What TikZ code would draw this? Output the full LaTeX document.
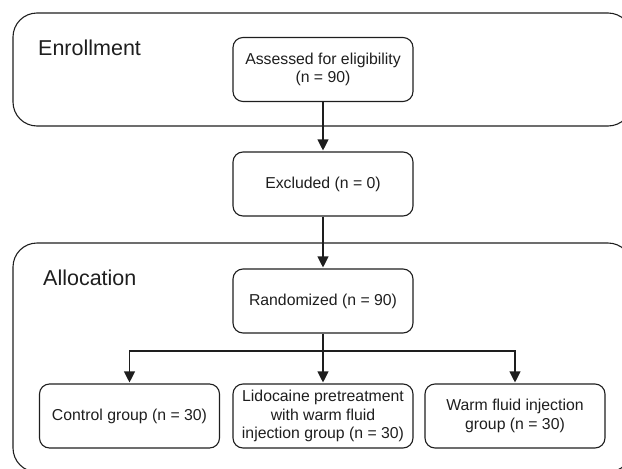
\documentclass[tikz,border=0pt]{standalone}
\usepackage{fontspec}
\setmainfont{Liberation Sans}
\usetikzlibrary{arrows.meta}
\definecolor{linec}{HTML}{1E1E1E}
\definecolor{textc}{HTML}{1E1E1E}
\begin{document}
\begin{tikzpicture}[x=1pt,y=-1pt,
  stagebox/.style={draw=linec, line width=1.1pt, rounded corners=10pt,
    minimum width=180pt, minimum height=64pt, align=center, inner sep=0pt,
    text=textc, font=\fontsize{15.8}{18.5}\selectfont},
  framebox/.style={draw=linec, line width=1.1pt, rounded corners=24pt},
  framelabel/.style={anchor=base west, inner sep=0pt, text=textc,
    font=\fontsize{21.5}{24}\selectfont},
  arr/.style={draw=linec, line width=1.1pt, -{Triangle[length=11pt,width=11pt]}, shorten >=1pt},
  conn/.style={draw=linec, line width=1.1pt}]
\useasboundingbox (0,0) rectangle (622,469);
% frames
\draw[framebox] (13,13) rectangle (632,126);
\draw[framebox] (13,243) rectangle (632,472);
\node[framelabel] (enroll) at (38,55) {Enrollment};
\node[framelabel] (alloc) at (43,285) {Allocation};
% boxes
\node[stagebox] (assess) at (323,69.5) {Assessed for eligibility\\(n = 90)};
\node[stagebox] (excl) at (323,184) {Excluded (n = 0)};
\node[stagebox] (rand) at (323,301) {Randomized (n = 90)};
\node[stagebox] (ctrl) at (129.5,416) {Control group (n = 30)};
\node[stagebox] (lido) at (323,416) {Lidocaine pretreatment\\with warm fluid\\injection group (n = 30)};
\node[stagebox] (warm) at (515,416) {Warm fluid injection\\group (n = 30)};
% connectors
\coordinate (split) at (323,351);
\draw[arr] (assess) -- (excl);
\draw[arr] (excl) -- (rand);
\draw[conn] (rand) -- (split);
\draw[arr] (split) -- (lido);
\draw[arr] (split) -| (ctrl);
\draw[arr] (split) -| (warm);
\end{tikzpicture}
\end{document}
